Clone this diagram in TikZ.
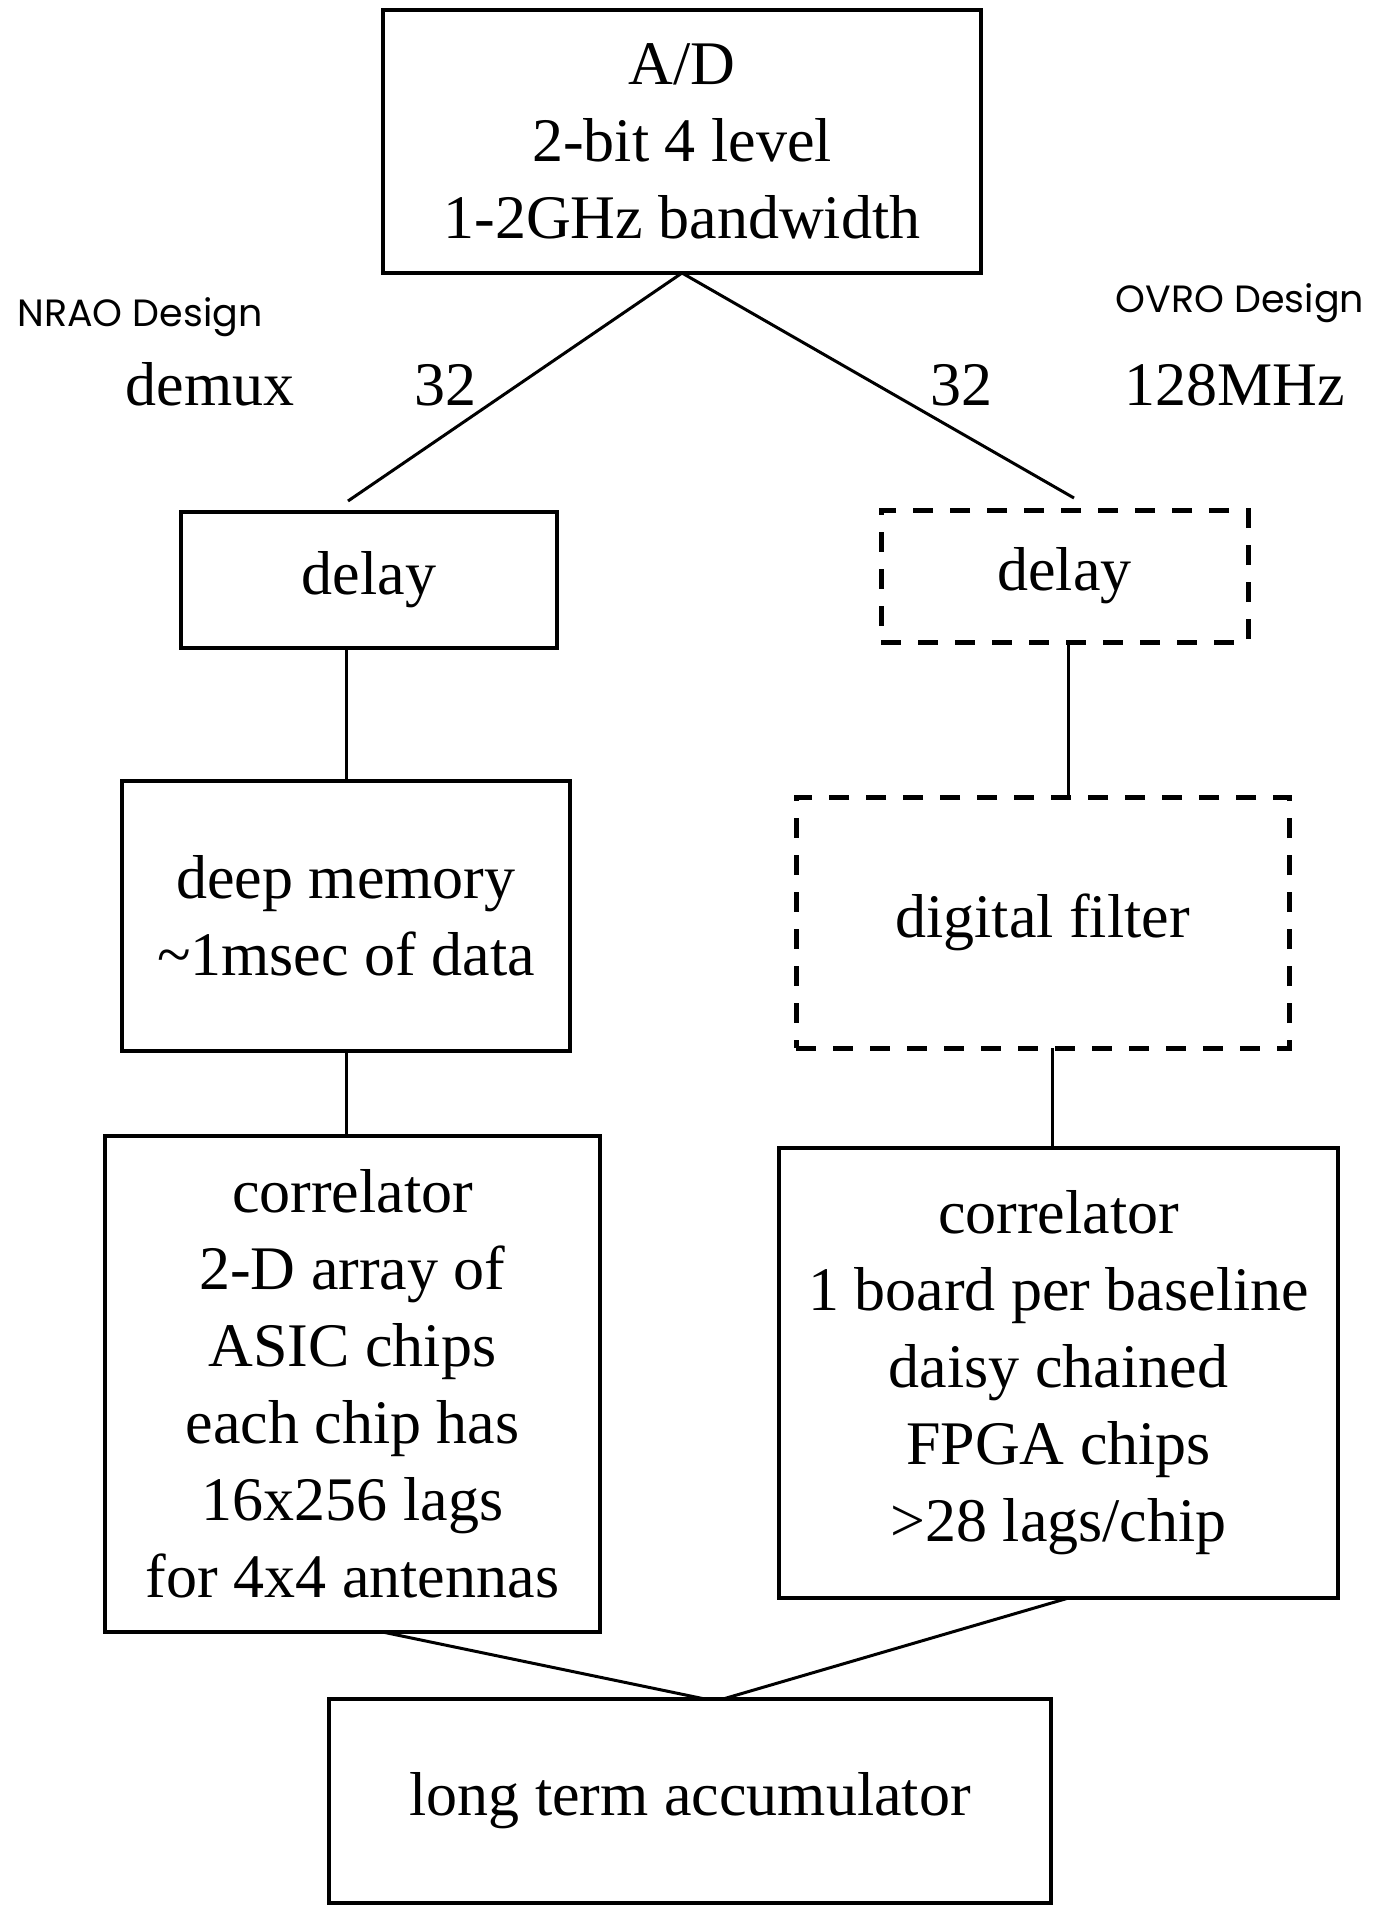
\documentclass[tikz,border=0pt]{standalone}
\usepackage{fontspec}
\setmainfont{Liberation Serif}
\newfontfamily\handfont{Poppins}
\begin{document}
\begin{tikzpicture}[x=1pt,y=-1pt,
  box/.style={draw, line width=3.5pt, inner sep=0pt, outer sep=0pt, align=center,
    font=\fontsize{62}{77}\selectfont},
  dbox/.style={box, line width=5pt, dash pattern=on 20pt off 17pt},
  conn/.style={line width=3pt},
  lbl/.style={font=\fontsize{62}{77}\selectfont, inner sep=0pt, anchor=base},
  hand/.style={font=\handfont\fontsize{38}{40}\selectfont, inner sep=0pt, anchor=base}]
\useasboundingbox (0,0) rectangle (1378,1906);
% boxes
\node[box, minimum width=598pt, minimum height=263pt] (ad) at (682,141.5)
  {A/D\\2-bit 4 level\\1-2GHz bandwidth};
\node[box, minimum width=376pt, minimum height=136pt] (dl) at (369,580) {\raisebox{-6pt}{delay}};
\node[dbox, minimum width=367pt, minimum height=132pt] (rd) at (1064.5,576) {\raisebox{-8pt}{delay}};
\node[box, minimum width=448pt, minimum height=270pt] (dm) at (346,916)
  {deep memory\\\textasciitilde1msec of data};
\node[dbox, minimum width=493pt, minimum height=251pt] (df) at (1042.5,922.5) {\raisebox{-4pt}{digital filter}};
\node[box, minimum width=495pt, minimum height=496pt] (cl) at (352.5,1384)
  {correlator\\2-D array of\\ASIC chips\\each chip has\\16x256 lags\\for 4x4 antennas};
\node[box, minimum width=559pt, minimum height=450pt] (cr) at (1058.5,1373)
  {correlator\\1 board per baseline\\daisy chained\\FPGA chips\\>28 lags/chip};
\node[box, minimum width=722pt, minimum height=204pt] (acc) at (690,1801)
  {\raisebox{-6pt}{long term accumulator}};
% labels
\node[hand] (nrao) at (140,326) {NRAO Design};
\node[hand] (ovro) at (1240,312) {OVRO Design};
\node[lbl] (demux) at (210,405) {demux};
\node[lbl] (n32a) at (445,405) {32};
\node[lbl] (n32b) at (961,405) {32};
\node[lbl] (mhz) at (1235,405) {128MHz};
% connectors
\coordinate (le) at (348,501);
\coordinate (re) at (1074,498);
\draw[conn] (ad.south) -- (le);
\draw[conn] (ad.south) -- (re);
\draw[conn] (dl.south -| dm.north) -- (dm.north);
\draw[conn] ([xshift=4pt]rd.south) -- ([xshift=4pt]rd.south |- df.north);
\draw[conn] (dm.south) -- (dm.south |- cl.north);
\draw[conn] ([xshift=10pt]df.south) -- ([xshift=10pt]df.south |- cr.north);
\draw[conn] ([xshift=30pt]cl.south) -- ([xshift=15pt]acc.north);
\draw[conn] ([xshift=10pt]cr.south) -- ([xshift=33pt]acc.north);
\end{tikzpicture}
\end{document}
